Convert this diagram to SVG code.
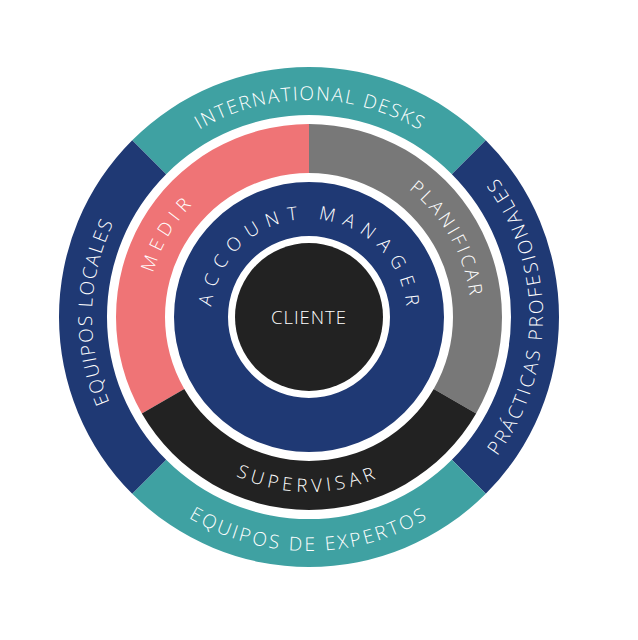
<svg xmlns="http://www.w3.org/2000/svg" width="638" height="640" viewBox="0 0 638 640">
  <style>
    .teal { fill: #3FA1A2; }
    .navy { fill: #1F3974; }
    .pink { fill: #EF7476; }
    .gray { fill: #787878; }
    .dark { fill: #222222; }
    .lbl { fill: #FFFFFF; font-family: "Open Sans", "Liberation Sans", sans-serif; font-weight: 300; }
    .outer { font-size: 19px; }
    .mid { font-size: 18.5px; }
  </style>
  <defs>
    <path id="p-intl" d="M 309 534 A 217 217 0 0 1 309 100 A 217 217 0 0 1 309 534"/>
    <path id="p-prac" d="M 75 317 A 234 234 0 0 0 543 317 A 234 234 0 0 0 75 317"/>
    <path id="p-exp" d="M 309 83 A 234 234 0 0 0 309 551 A 234 234 0 0 0 309 83"/>
    <path id="p-loc" d="M 526 317 A 217 217 0 0 1 92 317 A 217 217 0 0 1 526 317"/>
    <path id="p-medir" d="M 449.30 398 A 162 162 0 0 1 168.70 236 A 162 162 0 0 1 449.30 398"/>
    <path id="p-plan" d="M 168.70 398 A 162 162 0 0 1 449.30 236 A 162 162 0 0 1 168.70 398"/>
    <path id="p-sup" d="M 309 142 A 175 175 0 0 0 309 492 A 175 175 0 0 0 309 142"/>
    <path id="p-acc" d="M 309 415 A 98 98 0 0 1 309 219 A 98 98 0 0 1 309 415"/>
  </defs>
  <rect width="638" height="640" fill="#FFFFFF"/>

  <g id="international-desks">
    <path class="teal" d="M 132.22 140.22 A 250 250 0 0 1 485.78 140.22 L 451.84 174.16 A 202 202 0 0 0 166.16 174.16 Z"/>
    <text class="lbl outer" letter-spacing="1.7"><textPath href="#p-intl" startOffset="50.1%" text-anchor="middle">INTERNATIONAL DESKS</textPath></text>
  </g>
  <g id="practicas-profesionales">
    <path class="navy" d="M 485.78 140.22 A 250 250 0 0 1 485.78 493.78 L 451.84 459.84 A 202 202 0 0 0 451.84 174.16 Z"/>
    <text class="lbl outer" letter-spacing="2.6"><textPath href="#p-prac" startOffset="50.1%" text-anchor="middle">PRÁCTICAS PROFESIONALES</textPath></text>
  </g>
  <g id="equipos-de-expertos">
    <path class="teal" d="M 485.78 493.78 A 250 250 0 0 1 132.22 493.78 L 166.16 459.84 A 202 202 0 0 0 451.84 459.84 Z"/>
    <text class="lbl outer" letter-spacing="2.7"><textPath href="#p-exp" startOffset="50%" text-anchor="middle">EQUIPOS DE EXPERTOS</textPath></text>
  </g>
  <g id="equipos-locales">
    <path class="navy" d="M 132.22 493.78 A 250 250 0 0 1 132.22 140.22 L 166.16 174.16 A 202 202 0 0 0 166.16 459.84 Z"/>
    <text class="lbl outer" letter-spacing="1.6"><textPath href="#p-loc" startOffset="50.4%" text-anchor="middle">EQUIPOS LOCALES</textPath></text>
  </g>

  <g id="medir">
    <path class="pink" d="M 141.86 413.5 A 193 193 0 0 1 309 124 L 309 173 A 144 144 0 0 0 184.29 389 Z"/>
    <text class="lbl mid" letter-spacing="6"><textPath href="#p-medir" startOffset="50.2%" text-anchor="middle">MEDIR</textPath></text>
  </g>
  <g id="planificar">
    <path class="gray" d="M 309 124 A 193 193 0 0 1 476.14 413.5 L 433.71 389 A 144 144 0 0 0 309 173 Z"/>
    <text class="lbl mid" letter-spacing="3.2"><textPath href="#p-plan" startOffset="50.2%" text-anchor="middle">PLANIFICAR</textPath></text>
  </g>
  <g id="supervisar">
    <path class="dark" d="M 476.14 413.5 A 193 193 0 0 1 141.86 413.5 L 184.29 389 A 144 144 0 0 0 433.71 389 Z"/>
    <text class="lbl mid" letter-spacing="4.6"><textPath href="#p-sup" startOffset="49.9%" text-anchor="middle">SUPERVISAR</textPath></text>
  </g>

  <g id="account-manager">
    <circle cx="309" cy="317" r="108" fill="none" stroke="#1F3974" stroke-width="54"/>
    <text class="lbl mid" letter-spacing="7.9"><textPath href="#p-acc" startOffset="50.6%" text-anchor="middle">ACCOUNT MANAGER</textPath></text>
  </g>

  <g id="cliente">
    <circle class="dark" cx="309" cy="317" r="74"/>
    <text class="lbl" x="309" y="323.5" font-size="18.5" font-weight="400" letter-spacing="1" text-anchor="middle">CLIENTE</text>
  </g>

  <g id="connectors"/>
</svg>
